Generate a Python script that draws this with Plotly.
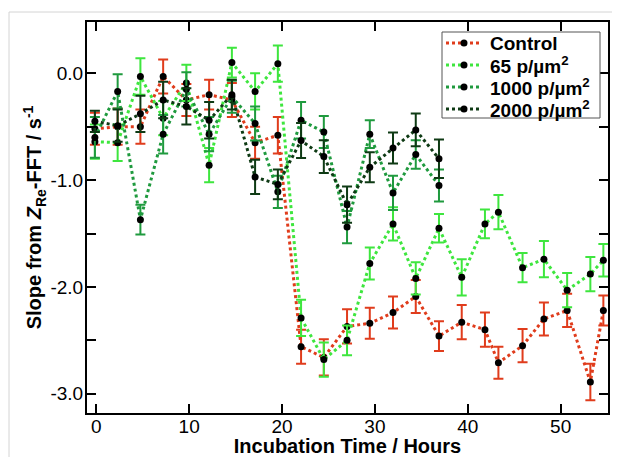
import plotly.graph_objects as go

# sampling times (hours)
hours_long = [-0.15, 2.3, 4.75, 7.2, 9.7, 12.15, 14.6, 17.1, 19.55, 22.05, 24.5, 27.0,
              29.45, 31.95, 34.4, 36.9, 39.35, 41.85, 43.3, 45.9, 48.2, 50.7, 53.2, 54.6]
hours_short = hours_long[:16]

control = [-0.52, -0.50, -0.50, -0.03, -0.25, -0.20, -0.25, -0.65, -0.58, -2.56, -2.66, -2.37,
           -2.34, -2.24, -2.09, -2.46, -2.33, -2.40, -2.71, -2.55, -2.30, -2.22, -2.89, -2.22]
control_err = [0.15, 0.17, 0.16, 0.16, 0.15, 0.14, 0.16, 0.15, 0.17, 0.16, 0.17, 0.16,
               0.145, 0.15, 0.155, 0.14, 0.16, 0.16, 0.15, 0.156, 0.155, 0.156, 0.17, 0.14]

d65 = [-0.64, -0.65, -0.03, -0.42, -0.09, -0.86, 0.10, -0.17, 0.09, -2.29, -2.68, -2.50,
       -1.78, -1.41, -1.92, -1.45, -1.91, -1.41, -1.30, -1.82, -1.74, -2.03, -1.88, -1.75]
d65_err = [0.16, 0.17, 0.17, 0.16, 0.17, 0.16, 0.14, 0.17, 0.17, 0.17, 0.16, 0.14,
           0.15, 0.156, 0.15, 0.133, 0.17, 0.134, 0.16, 0.137, 0.17, 0.16, 0.16, 0.153]

d1000 = [-0.60, -0.17, -1.37, -0.57, -0.15, -0.57, -0.22, -0.47, -1.11, -0.44, -0.55, -1.44,
         -0.57, -1.12, -0.76, -1.05]
d1000_err = [0.19, 0.16, 0.14, 0.18, 0.16, 0.16, 0.15, 0.16, 0.15, 0.17, 0.15, 0.15,
             0.13, 0.16, 0.133, 0.15]

d2000 = [-0.45, -0.49, -0.38, -0.25, -0.31, -0.44, -0.20, -0.97, -1.04, -0.63, -0.78, -1.23,
         -0.88, -0.70, -0.53, -0.80]
d2000_err = [0.10, 0.15, 0.17, 0.17, 0.17, 0.17, 0.14, 0.16, 0.14, 0.164, 0.153, 0.17,
             0.14, 0.145, 0.153, 0.18]

x_ticks = [0, 10, 20, 30, 40, 50]
y_ticks = [0, -1, -2, -3]
y_ticktext = ['0.0', '-1.0', '-2.0', '-3.0']

series = [
    ('Control', hours_long, control, control_err, '#e03c1c'),
    ('65 p/µm<sup>2</sup>', hours_long, d65, d65_err, '#3ee63e'),
    ('1000 p/µm<sup>2</sup>', hours_short, d1000, d1000_err, '#1f9a3e'),
    ('2000 p/µm<sup>2</sup>', hours_short, d2000, d2000_err, '#0e3a14'),
]

FONT = 'Liberation Sans, Arial, sans-serif'

# the page body adds an 8px margin, so the figure is 8px smaller than the window
W, H, PAGE = 612, 449, 8
# plot frame in window pixels
L, R, T, B = 87, 608, 22, 413


def sx(p):
    return (p - L) / (R - L)


def sy(p):
    return (B - p) / (B - T)


fig = go.Figure()
for name, x, y, err, color in series:
    fig.add_trace(go.Scatter(
        x=x, y=y, name=name, mode='lines+markers', showlegend=False,
        line=dict(color=color, width=3, dash='dot'),
        marker=dict(color='black', size=7),
        error_y=dict(type='data', array=err, color=color, thickness=2, width=5)))

# hand-made legend box (tighter line spacing than plotly's own legend)
shapes = [dict(type='rect', xref='paper', yref='paper',
               x0=sx(442), x1=sx(600), y0=sy(118), y1=sy(32),
               line=dict(color='#555555', width=1), fillcolor='white', layer='above')]
annotations = []
for i, (name, x, y, err, color) in enumerate(series):
    yy = sy(43 + 22 * i)
    shapes.append(dict(type='line', xref='paper', yref='paper',
                       x0=sx(446), x1=sx(482), y0=yy, y1=yy,
                       line=dict(color=color, width=3, dash='dot'), layer='above'))
    shapes.append(dict(type='circle', xref='paper', yref='paper',
                       x0=sx(460.5), x1=sx(467.5), y0=yy - 3.5 / (B - T), y1=yy + 3.5 / (B - T),
                       line=dict(color='black', width=0), fillcolor='black', layer='above'))
    annotations.append(dict(xref='paper', yref='paper', x=sx(488), y=yy,
                            xanchor='left', yanchor='middle', showarrow=False, text='<b>' + name + '</b>',
                            font=dict(family=FONT, size=19, color='black')))

# faint outer frame of the original figure
shapes.append(dict(type='rect', xref='paper', yref='paper',
                   x0=sx(9), x1=sx(618), y0=sy(470), y1=sy(12),
                   line=dict(color='#d4d4d4', width=1), layer='below'))

axis_font = dict(family=FONT, size=19, color='black')
title_font = dict(family=FONT, size=20, color='black', weight='bold')

fig.update_xaxes(
    range=[-1.0, 55.1], tickvals=x_ticks,
    ticks='inside', ticklen=9, tickwidth=2, tickcolor='black',
    showline=True, linewidth=2, linecolor='black', mirror='ticks',
    showgrid=False, zeroline=False, tickfont=axis_font, automargin=False,
    ticklabelstandoff=-5,
    title=dict(text='Incubation Time / Hours', font=title_font, standoff=1))
fig.update_yaxes(
    range=[-3.18, 0.48], tickvals=y_ticks, ticktext=y_ticktext,
    ticks='inside', ticklen=9, tickwidth=2, tickcolor='black',
    minor=dict(tickvals=[-0.5, -1.5, -2.5], ticks='inside', ticklen=9, tickwidth=2, tickcolor='black'),
    showline=True, linewidth=2, linecolor='black', mirror='ticks',
    showgrid=False, zeroline=False, tickfont=axis_font, automargin=False,
    ticklabelstandoff=-2,
    title=dict(text='Slope from <i>Z</i><sub>Re</sub>-FFT / s<sup>-1</sup>', font=title_font, standoff=3))

fig.update_layout(
    width=W, height=H,
    margin=dict(l=L - PAGE, r=W - (R - PAGE), t=T - PAGE, b=H - (B - PAGE)),
    paper_bgcolor='white', plot_bgcolor='white',
    shapes=shapes, annotations=annotations,
    showlegend=False)

fig.write_html('out.html')
